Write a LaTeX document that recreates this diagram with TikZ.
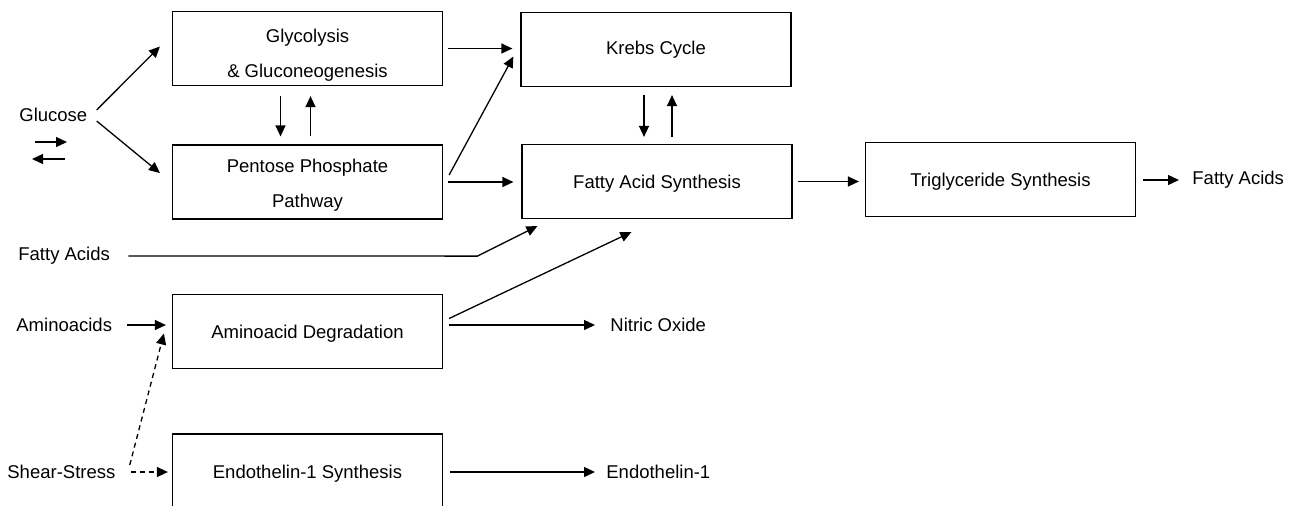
\documentclass[tikz,border=0pt]{standalone}
\usepackage{fontspec}
\setmainfont{Liberation Sans}
\usetikzlibrary{arrows.meta,calc}
\newcommand{\liftline}[1]{\rule{0pt}{#1}}
\begin{document}
\begin{tikzpicture}[x=0.5pt,y=-0.5pt,
	every node/.style={inner sep=0pt,font=\fontsize{9.25}{17.5}\selectfont},
	proc/.style={draw,line width=0.6pt,minimum width=135pt,minimum height=37pt,align=center},
	oneline/.style={proc,text height=9.4pt},
	lbl/.style={anchor=west},
	arr/.style={line width=0.65pt,-{Triangle[length=5.5pt,width=5pt]}},
	darr/.style={arr,dash pattern=on 2.5pt off 2pt}]
	\useasboundingbox (0,0) rectangle (1290,505);
	\node[proc] (glyco) at (307.5,48.5) {\liftline{13.9pt}Glycolysis\\\& Gluconeogenesis};
	\node[proc] (krebs) at (656,49.5) {Krebs Cycle};
	\node[proc] (pentose) at (307.5,182) {\liftline{10.4pt}Pentose Phosphate\\Pathway};
	\node[oneline] (fas) at (657,181.5) {Fatty Acid Synthesis};
	\node[oneline] (trig) at (1000.5,179.5) {Triglyceride Synthesis};
	\node[oneline] (amino) at (307.5,331.5) {Aminoacid Degradation};
	\node[oneline] (endo) at (307.5,471) {Endothelin-1 Synthesis};
	\node[lbl] (glucose) at (19,115) {Glucose};
	\node[lbl] (fain) at (18,256) {Fatty Acids};
	\node[lbl] (aminoin) at (16,325) {Aminoacids};
	\node[lbl] (shear) at (7,472) {Shear-Stress};
	\node[lbl] (nitric) at (610,325) {Nitric Oxide};
	\node[lbl] (endoout) at (606,472) {Endothelin-1};
	\node[lbl] (faout) at (1192,180) {Fatty Acids};
	\coordinate (fwdA) at (35,142);
	\coordinate (fwdB) at (67,142);
	\coordinate (revA) at (32,159);
	\coordinate (revB) at (65,159);
	\draw[arr] (fwdA) -- (fwdB);
	\draw[arr] (revB) -- (revA);
	\draw[arr] ($(glucose.east)+(9,-5)$) -- ($(glyco.west)+(-12,-2)$);
	\draw[arr] ($(glucose.east)+(9,6)$) -- ($(pentose.west)+(-12,-9)$);
	\draw[arr] ($(glyco.south)+(-27,10)$) -- ($(pentose.north)+(-27,-8)$);
	\draw[arr] ($(pentose.north)+(3,-8)$) -- ($(glyco.south)+(3,10)$);
	\draw[arr,shorten <=2.5pt,shorten >=4pt] (glyco.east) -- (glyco.east -| krebs.west);
	\draw[arr] ($(pentose.east)+(6,-7)$) -- ($(krebs.west)+(-7,7)$);
	\draw[arr,shorten <=2.5pt,shorten >=4pt] (pentose.east) -- (pentose.east -| fas.west);
	\draw[arr] ($(krebs.south)+(-12,8)$) -- ($(krebs.south |- fas.north)+(-12,-7)$);
	\draw[arr] ($(krebs.south |- fas.north)+(16,-7)$) -- ($(krebs.south)+(16,8)$);
	\draw[arr,shorten <=2.5pt,shorten >=3pt] (fas.east) -- (fas.east -| trig.west);
	\draw[arr,shorten <=3.5pt,shorten >=6.5pt] (trig.east |- faout.west) -- (faout.west);
	\draw[arr] ([xshift=9pt]fain.east) -- ($(fas.south west)+(-44,37)$) -- ($(fas.south west)+(16,7)$);
	\draw[arr] ($(amino.east)+(6,-13)$) -- ($(fas.south west)+(110,13)$);
	\draw[arr,shorten <=3pt,shorten >=7.5pt] (amino.east |- nitric.west) -- (nitric.west);
	\draw[arr,shorten <=7.5pt,shorten >=3pt] (aminoin.east) -- (aminoin.east -| amino.west);
	\draw[darr] ($(shear.east)+(14,-7)$) -- ($(amino.west)+(-8,2)$);
	\draw[darr,shorten <=7.5pt,shorten >=2pt] (shear.east) -- (shear.east -| endo.west);
	\draw[arr,shorten <=3.5pt,shorten >=5.5pt] (endoout.west -| endo.east) -- (endoout.west);
\end{tikzpicture}
\end{document}
